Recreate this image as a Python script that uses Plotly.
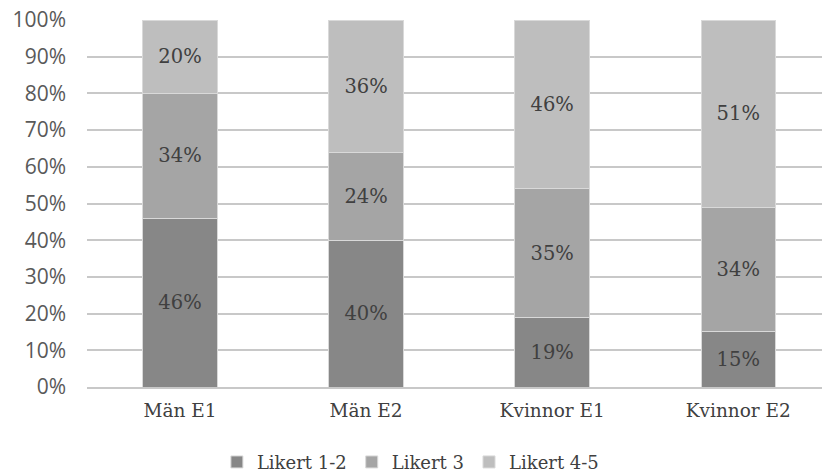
import plotly.graph_objects as go

categories = ["Män E1", "Män E2", "Kvinnor E1", "Kvinnor E2"]
likert_1_2 = [46, 40, 19, 15]
likert_3 = [34, 24, 35, 34]
likert_4_5 = [20, 36, 46, 51]
series_names = ["Likert 1-2", "Likert 3", "Likert 4-5"]
colors = ["#878787", "#a5a5a5", "#bebebe"]
yticks = list(range(0, 101, 10))

serif = "DejaVu Serif, Liberation Serif, serif"
sans = "Open Sans, Liberation Sans, sans-serif"

fig = go.Figure()
for name, vals, col in zip(series_names, [likert_1_2, likert_3, likert_4_5], colors):
    fig.add_trace(go.Bar(
        x=categories, y=vals, name=name,
        marker=dict(color=col, line=dict(color="#d9d9d9", width=1)),
        width=0.4,
        text=[f"{v}%" for v in vals],
        textposition="inside", insidetextanchor="middle",
        textfont=dict(family=serif, size=19.5, color="#404040"),
        hoverinfo="skip",
    ))

fig.update_layout(
    barmode="stack",
    width=822, height=474,
    margin=dict(l=87, r=0, t=20, b=87, autoexpand=False),
    plot_bgcolor="white", paper_bgcolor="white",
    showlegend=True,
    legend=dict(orientation="h", xref="paper", yref="paper",
                x=0.44, xanchor="center", y=-0.205, yanchor="middle",
                font=dict(family=serif, size=18, color="#404040"),
                itemwidth=30, traceorder="normal"),
)
fig.update_xaxes(range=[-0.5, 3.45], showgrid=False, showline=True,
                 linecolor="#c8c8c8", linewidth=2, ticks="",
                 ticklabelstandoff=6, tickangle=0,
                 tickfont=dict(family=serif, size=18.5, color="#404040"))
fig.update_yaxes(range=[0, 100], tickvals=yticks, ticktext=[f"{t}%" for t in yticks],
                 showgrid=True, gridcolor="#c8c8c8", gridwidth=2, zeroline=False,
                 ticks="", ticklabelstandoff=20,
                 tickfont=dict(family=sans, size=21, color="#595959"))

fig.write_html("out.html")
